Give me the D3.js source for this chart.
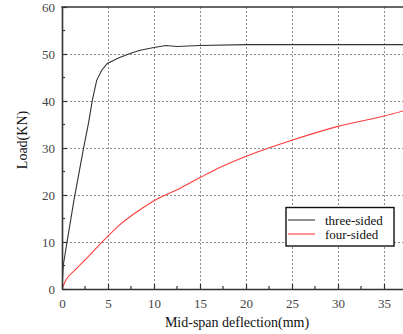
<!DOCTYPE html>
<html><head><meta charset="utf-8">
<script src="https://cdn.jsdelivr.net/npm/d3@7"></script>
<style>body{margin:0;background:#fff;}svg{display:block;}</style>
</head><body>
<svg id="c" width="403" height="334"></svg>
<script>
const seriesNames = ["three-sided", "four-sided"];
const seriesColors = ["#333333", "#ff3b3b"];
const threeSidedX = [0, 0.14, 0.7, 1.3, 2.3, 2.9, 3.3, 3.77, 4.3, 4.93, 6.2, 7.4, 8.5, 10, 11.3, 12.5, 15, 20, 40];
const threeSidedY = [0, 5.1, 11.8, 18.9, 29.5, 35.5, 40.2, 44.4, 46.5, 48.0, 49.2, 50.1, 50.8, 51.4, 51.8, 51.6, 51.8, 52.0, 52.0];
const fourSidedX = [0, 0.4, 1.4, 2.86, 4.67, 6.49, 8.2, 10.1, 12.8, 15, 17.2, 20.1, 25.07, 30, 35, 37.1];
const fourSidedY = [0, 1.8, 4.0, 6.9, 10.6, 14.0, 16.5, 18.9, 21.4, 23.7, 25.9, 28.3, 31.7, 34.6, 36.8, 37.9];
const xTicks = [0, 5, 10, 15, 20, 25, 30, 35];
const xMinorTicks = [2.5, 7.5, 12.5, 17.5, 22.5, 27.5, 32.5, 37.5];
const yTicks = [0, 10, 20, 30, 40, 50, 60];
const yMinorTicks = [5, 15, 25, 35, 45, 55];
const xLabel = "Mid-span deflection(mm)";
const yLabel = "Load(KN)";

const svg = d3.select("#c");
const x = d3.scaleLinear().domain([0, 40]).range([62, 430]);
const y = d3.scaleLinear().domain([0, 60]).range([289, 7]);
const font = "'Liberation Serif','Times New Roman',serif";
const px = v => Math.round(v) + 0.5;

// grid
const grid = svg.append("g").attr("class", "grid");
grid.selectAll("line.vg").data(xTicks.filter(d => d > 0)).join("line").attr("class", "vg")
  .attr("x1", d => px(x(d))).attr("x2", d => px(x(d))).attr("y1", y(0)).attr("y2", y(60))
  .attr("stroke", "#8a8a8a").attr("stroke-width", 1).attr("stroke-dasharray", "2,2");
grid.selectAll("line.hg").data(yTicks.filter(d => d > 0 && d < 60)).join("line").attr("class", "hg")
  .attr("x1", x(0)).attr("x2", x(40)).attr("y1", d => px(y(d))).attr("y2", d => px(y(d)))
  .attr("stroke", "#8a8a8a").attr("stroke-width", 1).attr("stroke-dasharray", "2,2");

// lines
svg.append("clipPath").attr("id", "pc").append("rect")
  .attr("x", x(0)).attr("y", y(60)).attr("width", x(40) - x(0)).attr("height", y(0) - y(60));
const data = [d3.zip(threeSidedX, threeSidedY), d3.zip(fourSidedX, fourSidedY)];
const curves = [d3.curveLinear, d3.curveMonotoneX];
svg.append("g").attr("clip-path", "url(#pc)").selectAll("path").data(data).join("path")
  .attr("d", (d, i) => d3.line().x(p => x(p[0])).y(p => y(p[1])).curve(curves[i])(d))
  .attr("fill", "none")
  .attr("stroke", (d, i) => seriesColors[i]).attr("stroke-width", 1.1);

// axes
const axColor = "#333";
const xAxis = svg.append("g").attr("transform", `translate(0,${y(0)})`)
  .call(d3.axisBottom(x).tickValues(xTicks).tickSizeInner(-5).tickSizeOuter(0).tickPadding(10).tickFormat(d3.format("d")));
const yAxis = svg.append("g").attr("transform", `translate(${x(0)},0)`)
  .call(d3.axisLeft(y).tickValues(yTicks).tickSizeInner(-5).tickSizeOuter(0).tickPadding(7).tickFormat(d3.format("d")));
[xAxis, yAxis].forEach(a => {
  a.select(".domain").attr("stroke", axColor).attr("stroke-width", 1.6);
  a.selectAll(".tick line").attr("stroke", axColor).attr("stroke-width", 1.2);
  a.selectAll("text").attr("font-family", font).attr("font-size", 13).attr("fill", "#444");
});
svg.append("g").selectAll("line").data(xMinorTicks).join("line")
  .attr("x1", d => x(d)).attr("x2", d => x(d)).attr("y1", y(0)).attr("y2", y(0) - 3)
  .attr("stroke", axColor).attr("stroke-width", 1.2);
svg.append("g").selectAll("line").data(yMinorTicks).join("line")
  .attr("x1", x(0)).attr("x2", x(0) + 3).attr("y1", d => y(d)).attr("y2", d => y(d))
  .attr("stroke", axColor).attr("stroke-width", 1.2);
// top border
svg.append("line").attr("x1", x(0) - 0.8).attr("x2", x(40)).attr("y1", y(60)).attr("y2", y(60))
  .attr("stroke", axColor).attr("stroke-width", 1.6);

// axis labels
svg.append("text").attr("x", 237).attr("y", 327).attr("text-anchor", "middle")
  .attr("font-family", font).attr("font-size", 14).attr("fill", "#111").text(xLabel);
svg.append("text").attr("transform", "translate(27,140) rotate(-90)").attr("text-anchor", "middle")
  .attr("font-family", font).attr("font-size", 14).attr("fill", "#111").text(yLabel);

// legend
const lg = svg.append("g");
lg.append("rect").attr("x", 286).attr("y", 207.5).attr("width", 108).attr("height", 38.5)
  .attr("fill", "#fff").attr("stroke", "#111").attr("stroke-width", 1.4);
seriesNames.forEach((n, i) => {
  const yy = 220 + i * 14;
  lg.append("line").attr("x1", 288).attr("x2", 315).attr("y1", yy).attr("y2", yy)
    .attr("stroke", seriesColors[i]).attr("stroke-width", 1.1);
  lg.append("text").attr("x", 325).attr("y", yy + 4.5).attr("font-family", font)
    .attr("font-size", 13).attr("fill", "#111").text(n);
});
</script>
</body></html>
